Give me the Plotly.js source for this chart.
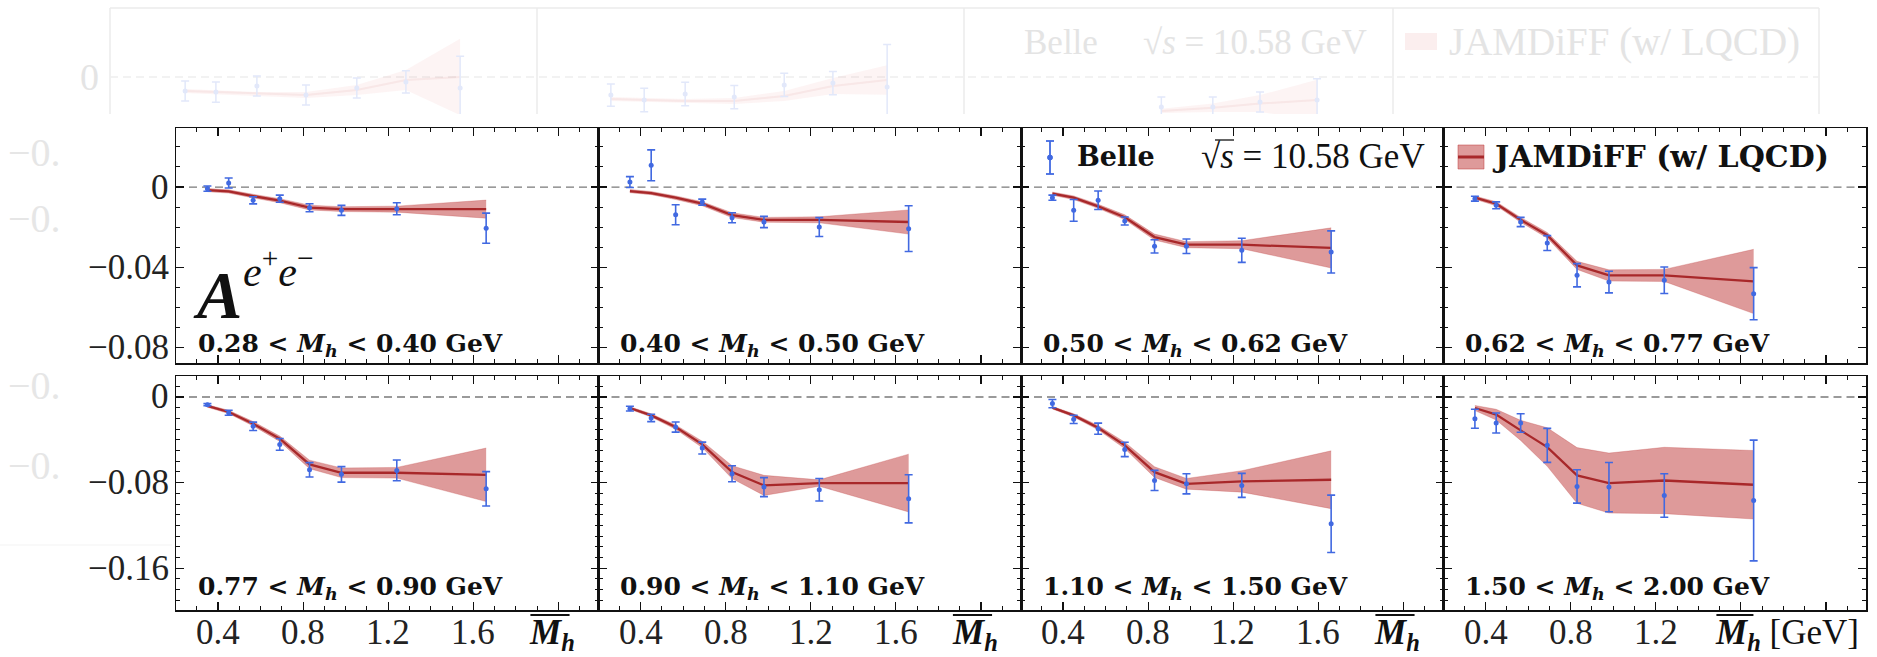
<!DOCTYPE html>
<html><head><meta charset="utf-8">
<script src="https://cdn.plot.ly/plotly-3.0.1.min.js"></script>
<style>html,body{margin:0;padding:0;background:#fff;} #chart{width:1877px;height:657px;}</style>
</head><body><div id="chart"></div>
<script>
// ---------- data ----------
const mhBar = [0.35, 0.45, 0.565, 0.69, 0.83, 0.98, 1.24, 1.66];
const binEdges = ['0.28','0.40','0.50','0.62','0.77','0.90','1.10','1.50','2.00'];

const belle1 = [-0.0008, 0.0020, -0.0066, -0.0058, -0.0103, -0.0116, -0.0108, -0.0205];
const err1   = [0.0013, 0.0025, 0.0018, 0.0018, 0.0020, 0.0025, 0.0030, 0.0075];
const theo1  = [-0.0015, -0.0022, -0.0045, -0.0068, -0.0102, -0.0110, -0.0110, -0.0110];
const tunc1  = [0.0008, 0.0008, 0.0009, 0.0010, 0.0012, 0.0012, 0.0015, 0.0045];

const belle2 = [0.0025, 0.0108, -0.0138, -0.0075, -0.0153, -0.0174, -0.0199, -0.0207];
const err2   = [0.0027, 0.0077, 0.0050, 0.0015, 0.0025, 0.0028, 0.0047, 0.0114];
const theo2  = [-0.0020, -0.0030, -0.0053, -0.0083, -0.0140, -0.0163, -0.0163, -0.0174];
const tunc2  = [0.0008, 0.0008, 0.0009, 0.0010, 0.0012, 0.0012, 0.0015, 0.0060];

const belle3 = [-0.0053, -0.0116, -0.0066, -0.0169, -0.0295, -0.0295, -0.0315, -0.0323];
const err3   = [0.0013, 0.0054, 0.0046, 0.0020, 0.0033, 0.0036, 0.0060, 0.0105];
const theo3  = [-0.0033, -0.0053, -0.0096, -0.0150, -0.0249, -0.0287, -0.0287, -0.0303];
const tunc3  = [0.0008, 0.0009, 0.0010, 0.0012, 0.0015, 0.0015, 0.0020, 0.0100];

const belle4 = [-0.0058, -0.0091, -0.0174, -0.0279, -0.0439, -0.0473, -0.0464, -0.0531];
const err4   = [0.0012, 0.0017, 0.0023, 0.0037, 0.0058, 0.0054, 0.0066, 0.0130];
const theo4  = [-0.0053, -0.0083, -0.0163, -0.0240, -0.0390, -0.0440, -0.0440, -0.0470];
const tunc4  = [0.0008, 0.0010, 0.0012, 0.0014, 0.0020, 0.0028, 0.0030, 0.0160];

const belle5 = [-0.0072, -0.0147, -0.0274, -0.0443, -0.0680, -0.0723, -0.0686, -0.0858];
const err5   = [0.0010, 0.0023, 0.0039, 0.0055, 0.0067, 0.0072, 0.0097, 0.0161];
const theo5  = [-0.0084, -0.0140, -0.0250, -0.0390, -0.0630, -0.0708, -0.0708, -0.0727];
const tunc5  = [0.0012, 0.0015, 0.0020, 0.0025, 0.0040, 0.0045, 0.0050, 0.0250];

const belle6 = [-0.0109, -0.0196, -0.0281, -0.0477, -0.0717, -0.0842, -0.0867, -0.0951];
const err6   = [0.0022, 0.0034, 0.0047, 0.0055, 0.0075, 0.0089, 0.0105, 0.0225];
const theo6  = [-0.0103, -0.0172, -0.0281, -0.0443, -0.0702, -0.0826, -0.0804, -0.0804];
const tunc6  = [0.0012, 0.0015, 0.0020, 0.0030, 0.0060, 0.0094, 0.0030, 0.0270];

const belle7 = [-0.0062, -0.0209, -0.0296, -0.0490, -0.0780, -0.0811, -0.0826, -0.1185];
const err7   = [0.0039, 0.0039, 0.0052, 0.0067, 0.0094, 0.0094, 0.0112, 0.0268];
const theo7  = [-0.0100, -0.0172, -0.0287, -0.0452, -0.0702, -0.0811, -0.0789, -0.0773];
const tunc7  = [0.0012, 0.0015, 0.0020, 0.0030, 0.0050, 0.0050, 0.0100, 0.0270];

const belle8 = [-0.0203, -0.0243, -0.0243, -0.0452, -0.0836, -0.0842, -0.0920, -0.0967];
const err8   = [0.0089, 0.0094, 0.0086, 0.0159, 0.0156, 0.0230, 0.0203, 0.0564];
const theo8  = [-0.0103, -0.0165, -0.0312, -0.0468, -0.0733, -0.0804, -0.0780, -0.0820];
const tunc8  = [0.0024, 0.0050, 0.0094, 0.0180, 0.0260, 0.0280, 0.0310, 0.0320];

const xTickVals = [0.4, 0.8, 1.2, 1.6, 2.0];
const xTickText = ['0.4', '0.8', '1.2', '1.6'];
const xTickTextLast = ['0.4', '0.8', '1.2'];
const yTickValsTop = [0, -0.04, -0.08];
const yTickTextTop = ['0', '−0.04', '−0.08'];
const yTickValsBot = [0, -0.08, -0.16];
const yTickTextBot = ['0', '−0.08', '−0.16'];

// faded remnant strip at the top (arbitrary units)
const ghostX1 = [0.176, 0.248, 0.344, 0.459, 0.578, 0.693, 0.820];
const ghostY1 = [-0.0132, -0.0142, -0.0085, -0.0170, -0.0104, -0.0047, -0.0104];
const ghostE1 = [0.0095, 0.0095, 0.0095, 0.0095, 0.0095, 0.0105, 0.0300];
const ghostT1 = [-0.0132, -0.0142, -0.0160, -0.0170, -0.0123, -0.0028, 0.0000];
const ghostU1 = [0.0019, 0.0019, 0.0019, 0.0028, 0.0047, 0.0094, 0.0360];
const ghostX2 = [0.173, 0.251, 0.347, 0.462, 0.579, 0.693, 0.820];
const ghostY2 = [-0.0170, -0.0217, -0.0160, -0.0189, -0.0075, -0.0057, -0.0094];
const ghostE2 = [0.0105, 0.0110, 0.0110, 0.0110, 0.0110, 0.0110, 0.0400];
const ghostT2 = [-0.0208, -0.0217, -0.0226, -0.0226, -0.0179, -0.0085, -0.0028];
const ghostU2 = [0.0019, 0.0019, 0.0019, 0.0028, 0.0047, 0.0075, 0.0140];
const ghostX3 = [0.46, 0.58, 0.69, 0.823];
const ghostY3 = [-0.0283, -0.0283, -0.0236, -0.0217];
const ghostE3 = [0.0094, 0.0094, 0.0094, 0.0200];
const ghostT3 = [-0.0320, -0.0290, -0.0250, -0.0217];
const ghostU3 = [0.0020, 0.0040, 0.0080, 0.0190];

// ---------- layout helpers ----------
const W = 1877, H = 657;
const px = v => v / W;
const py = v => 1 - v / H;
const colEdges = [176, 598.5, 1021, 1443.5, 1866];
const rowEdges = [[128, 363], [376, 610]];
const xRange = [0.2024, 2.188];
const yRanges = [[-0.0876, 0.0294], [-0.199, 0.0196]];
const ghostEdges = [110, 537, 964, 1393, 1819];

const BLUE = '#4169e1';
const RED = '#a8282a';
const BAND = 'rgba(192,62,62,0.52)';
const SERIF = 'Liberation Serif, Times New Roman, serif';
const BOLDSERIF = 'DejaVu Serif, serif';

const belleAll = [belle1, belle2, belle3, belle4, belle5, belle6, belle7, belle8];
const errAll = [err1, err2, err3, err4, err5, err6, err7, err8];
const theoAll = [theo1, theo2, theo3, theo4, theo5, theo6, theo7, theo8];
const tuncAll = [tunc1, tunc2, tunc3, tunc4, tunc5, tunc6, tunc7, tunc8];

const data = [];
const layout = {
  width: W, height: H, margin: {l: 0, r: 0, t: 0, b: 0},
  paper_bgcolor: '#fff', plot_bgcolor: 'rgba(0,0,0,0)', showlegend: false,
  font: {family: SERIF, size: 33, color: '#1a1a1a'},
  annotations: [], shapes: []
};
const tickFont = () => ({family: SERIF, size: 35, color: '#222'});

// ghost panels first (underneath)
const ghostSets = [[ghostX1, ghostY1, ghostE1, ghostT1, ghostU1], [ghostX2, ghostY2, ghostE2, ghostT2, ghostU2], [ghostX3, ghostY3, ghostE3, ghostT3, ghostU3]];
ghostSets.forEach((g, j) => {
  const n = 9 + j, xs = 'x' + n, ys = 'y' + n;
  layout['xaxis' + n] = {domain: [px(ghostEdges[j]), px(ghostEdges[j + 1])], range: [0, 1], anchor: ys, visible: false, fixedrange: true};
  layout['yaxis' + n] = {domain: [py(114), py(8)], range: [-0.0349, 0.0651], anchor: xs, visible: false, fixedrange: true};
  const [gx, gy, ge, gt, gu] = g;
  data.push({x: gx, y: gt.map((v, k) => v - gu[k]), xaxis: xs, yaxis: ys, mode: 'lines', line: {width: 0}, hoverinfo: 'skip'});
  data.push({x: gx, y: gt.map((v, k) => v + gu[k]), xaxis: xs, yaxis: ys, mode: 'lines', line: {width: 0}, fill: 'tonexty', fillcolor: 'rgba(235,150,150,0.10)', hoverinfo: 'skip'});
  data.push({x: gx, y: gt, xaxis: xs, yaxis: ys, mode: 'lines', line: {width: 2, color: 'rgba(210,120,120,0.10)'}});
  data.push({x: gx, y: gy, xaxis: xs, yaxis: ys, mode: 'markers', marker: {color: '#e2e8fa', size: 5},
    error_y: {type: 'data', array: ge, visible: true, color: '#e2e8fa', thickness: 1.5, width: 4}});
});

for (let i = 0; i < 8; i++) {
  const n = i + 1, row = Math.floor(i / 4), col = i % 4;
  const sfx = n === 1 ? '' : String(n);
  const xs = 'x' + sfx, ys = 'y' + sfx;
  layout['xaxis' + sfx] = {
    domain: [px(colEdges[col]), px(colEdges[col + 1])],
    range: xRange, anchor: ys, fixedrange: true,
    showline: true, linecolor: '#111', linewidth: 1.5, mirror: 'ticks',
    ticks: 'inside', ticklen: 8, tickwidth: 1.2, tickcolor: '#111',
    tickmode: 'array', tickvals: xTickVals, showticklabels: false,
    minor: {ticks: 'inside', ticklen: 4, tickwidth: 1, tickcolor: '#111', dtick: 0.1, tick0: 0, showgrid: false},
    showgrid: false, zeroline: false
  };
  layout['yaxis' + sfx] = {
    domain: [py(rowEdges[row][1]), py(rowEdges[row][0])],
    range: yRanges[row], anchor: xs, fixedrange: true,
    showline: true, linecolor: '#111', linewidth: 1.5, mirror: 'ticks',
    ticks: 'inside', ticklen: 8, tickwidth: 1.2, tickcolor: '#111',
    tickmode: 'array', tickvals: row === 0 ? yTickValsTop : yTickValsBot, showticklabels: false,
    minor: {ticks: 'inside', ticklen: 4, tickwidth: 1, tickcolor: '#111', dtick: 0.01, tick0: 0, showgrid: false},
    showgrid: false, zeroline: false
  };

  // tick labels drawn as text at axis values
  if (row === 1) {
    const txt = col === 3 ? xTickTextLast : xTickText;
    txt.forEach((t, k) => layout.annotations.push({xref: xs, yref: 'paper', x: xTickVals[k], y: py(612),
      xanchor: 'center', yanchor: 'top', showarrow: false, borderpad: 0, text: t, font: tickFont()}));
  }
  if (col === 0) {
    const vals = row === 0 ? yTickValsTop : yTickValsBot;
    const txt = row === 0 ? yTickTextTop : yTickTextBot;
    vals.forEach((v, k) => layout.annotations.push({xref: 'paper', yref: ys, x: px(171), y: v,
      xanchor: 'right', yanchor: 'middle', showarrow: false, text: txt[k], font: tickFont()}));
  }

  // zero dashed line
  layout.shapes.push({type: 'line', xref: xs + ' domain', yref: ys, x0: 0, x1: 1, y0: 0, y1: 0,
    line: {color: '#7a7a7a', width: 1.3, dash: '8px,5px'}, layer: 'below'});

  const th = theoAll[i], tu = tuncAll[i];
  data.push({x: mhBar, y: th.map((v, k) => v - tu[k]), xaxis: xs, yaxis: ys, mode: 'lines',
    line: {width: 0.6, color: 'rgba(192,62,62,0.45)'}, hoverinfo: 'skip'});
  data.push({x: mhBar, y: th.map((v, k) => v + tu[k]), xaxis: xs, yaxis: ys, mode: 'lines',
    line: {width: 0.6, color: 'rgba(192,62,62,0.45)'}, fill: 'tonexty', fillcolor: BAND, hoverinfo: 'skip'});
  data.push({x: mhBar, y: th, xaxis: xs, yaxis: ys, mode: 'lines', line: {width: 2.3, color: RED}});
  data.push({x: mhBar, y: belleAll[i], xaxis: xs, yaxis: ys, mode: 'markers',
    marker: {color: BLUE, size: 5},
    error_y: {type: 'data', array: errAll[i], visible: true, color: BLUE, thickness: 1.6, width: 4}});

  // bin label
  layout.annotations.push({xref: xs + ' domain', yref: ys + ' domain', x: 0.047, y: row === 0 ? 0.078 : 0.095,
    xanchor: 'left', yanchor: 'middle', showarrow: false,
    text: '<b>' + binEdges[i] + ' &lt; <i>M</i><sub><i>h</i></sub> &lt; ' + binEdges[i + 1] + ' GeV</b>',
    font: {family: BOLDSERIF, size: 25, color: '#111'}});

  // x-axis label under bottom row
  if (row === 1) {
    const last = col === 3;
    const xL = last ? 1.485 : 1.868, xR = last ? 1.659 : 2.052;
    layout.annotations.push({xref: xs, yref: 'paper', x: xL - 0.01, y: py(612),
      xanchor: 'left', yanchor: 'top', showarrow: false, borderpad: 0,
      text: '<b><i>M</i></b><sub><b><i>h</i></b></sub>' + (last ? ' [GeV]' : ''),
      font: {family: SERIF, size: 35, color: '#111'}});
    layout.shapes.push({type: 'line', xref: xs, yref: 'paper', x0: xL, x1: xR, y0: py(615), y1: py(615),
      line: {color: '#111', width: 2.2}});
  }
}

// A^{e+e-}
layout.annotations.push({xref: 'paper', yref: 'paper', x: px(191), y: py(295), xanchor: 'left', yanchor: 'middle',
  showarrow: false, text: '<b><i>A</i></b>', font: {family: SERIF, size: 68, color: '#111'}});
layout.annotations.push({xref: 'paper', yref: 'paper', x: px(241), y: py(268), xanchor: 'left', yanchor: 'middle',
  showarrow: false, text: '<i>e</i><sup>+</sup><i>e</i><sup>−</sup>', font: {family: SERIF, size: 42, color: '#111'}});

// legend: Belle
layout.shapes.push({type: 'line', xref: 'paper', yref: 'paper', x0: px(1050), x1: px(1050), y0: py(141), y1: py(174), line: {color: BLUE, width: 1.8}});
layout.shapes.push({type: 'line', xref: 'paper', yref: 'paper', x0: px(1046), x1: px(1054), y0: py(141), y1: py(141), line: {color: BLUE, width: 1.8}});
layout.shapes.push({type: 'line', xref: 'paper', yref: 'paper', x0: px(1046), x1: px(1054), y0: py(174), y1: py(174), line: {color: BLUE, width: 1.8}});
layout.shapes.push({type: 'circle', xref: 'paper', yref: 'paper', x0: px(1047.5), x1: px(1052.5), y0: py(155), y1: py(160), fillcolor: BLUE, line: {color: BLUE, width: 1}});
layout.annotations.push({xref: 'paper', yref: 'paper', x: px(1075), y: py(156), xanchor: 'left', yanchor: 'middle',
  showarrow: false, text: '<b>Belle</b>', font: {family: BOLDSERIF, size: 27, color: '#111'}});
layout.annotations.push({xref: 'paper', yref: 'paper', x: px(1199), y: py(156), xanchor: 'left', yanchor: 'middle',
  showarrow: false, text: '√<i>s</i> = 10.58 GeV', font: {family: SERIF, size: 35, color: '#111'}});
layout.shapes.push({type: 'line', xref: 'paper', yref: 'paper', x0: px(1215), x1: px(1234), y0: py(140), y1: py(140), line: {color: '#111', width: 1.3}});

// legend: JAMDiFF
layout.shapes.push({type: 'rect', xref: 'paper', yref: 'paper', x0: px(1458), x1: px(1484), y0: py(145), y1: py(169), fillcolor: BAND, line: {color: 'rgba(192,62,62,0.5)', width: 1}});
layout.shapes.push({type: 'line', xref: 'paper', yref: 'paper', x0: px(1458), x1: px(1484), y0: py(157), y1: py(157), line: {color: RED, width: 3}});
layout.annotations.push({xref: 'paper', yref: 'paper', x: px(1490), y: py(156), xanchor: 'left', yanchor: 'middle',
  showarrow: false, text: '<b>JAMDiFF (w/ LQCD)</b>', font: {family: BOLDSERIF, size: 30, color: '#111'}});

// ---------- faded remnants (frames and texts) ----------
const GH = '#ebebeb';
ghostEdges.forEach(x => layout.shapes.push({type: 'line', xref: 'paper', yref: 'paper', x0: px(x), x1: px(x), y0: py(8), y1: py(114), line: {color: GH, width: 1.5}, layer: 'below'}));
layout.shapes.push({type: 'line', xref: 'paper', yref: 'paper', x0: px(110), x1: px(1819), y0: py(8), y1: py(8), line: {color: GH, width: 1.5}, layer: 'below'});
layout.shapes.push({type: 'line', xref: 'paper', yref: 'paper', x0: px(110), x1: px(1819), y0: py(77), y1: py(77), line: {color: '#eeeeee', width: 1.3, dash: '8px,5px'}, layer: 'below'});
layout.shapes.push({type: 'line', xref: 'paper', yref: 'paper', x0: 0, x1: px(172), y0: py(545), y1: py(545), line: {color: '#f3f3f3', width: 1.2}, layer: 'below'});
layout.annotations.push({xref: 'paper', yref: 'paper', x: px(101), y: py(77), xanchor: 'right', yanchor: 'middle', showarrow: false, text: '0', font: {family: SERIF, size: 38, color: '#e4e4e4'}});
[152, 218, 385, 465].forEach(y => layout.annotations.push({xref: 'paper', yref: 'paper', x: px(6), y: py(y), xanchor: 'left', yanchor: 'middle', showarrow: false, text: '−0.', font: {family: SERIF, size: 40, color: '#e6e6e6'}}));
layout.annotations.push({xref: 'paper', yref: 'paper', x: px(1022), y: py(42), xanchor: 'left', yanchor: 'middle', showarrow: false, text: 'Belle', font: {family: SERIF, size: 35, color: '#e4e4e4'}});
layout.annotations.push({xref: 'paper', yref: 'paper', x: px(1141), y: py(42), xanchor: 'left', yanchor: 'middle', showarrow: false, text: '√<i>s</i> = 10.58 GeV', font: {family: SERIF, size: 35, color: '#e4e4e4'}});
layout.annotations.push({xref: 'paper', yref: 'paper', x: px(1447), y: py(42), xanchor: 'left', yanchor: 'middle', showarrow: false, text: 'JAMDiFF (w/ LQCD)', font: {family: SERIF, size: 39, color: '#e4e4e4'}});
layout.shapes.push({type: 'rect', xref: 'paper', yref: 'paper', x0: px(1405), x1: px(1437), y0: py(33), y1: py(50), fillcolor: '#fbeeee', line: {width: 0}, layer: 'below'});

Plotly.newPlot('chart', data, layout, {displayModeBar: false, staticPlot: true});
</script>
</body></html>
